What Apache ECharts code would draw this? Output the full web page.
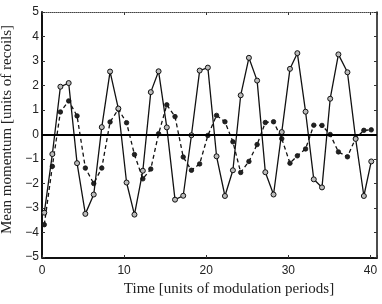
<!DOCTYPE html>
<html>
<head>
<meta charset="utf-8">
<script src="https://cdn.jsdelivr.net/npm/echarts@6/dist/echarts.min.js"></script>
<style>html,body{margin:0;padding:0;background:#fff}#c{width:382px;height:304px}</style>
</head>
<body>
<div id="c"></div>
<script>
var times = [0.28,1.26,2.24,3.25,4.27,5.28,6.3,7.28,8.29,9.3,10.3,11.26,12.28,13.25,14.2,15.2,16.2,17.2,18.2,19.2,20.2,21.26,22.28,23.25,24.2,25.2,26.2,27.2,28.2,29.2,30.2,31.1,32.1,33.1,34.1,35.1,36.1,37.2,38.2,39.2,40.1];
var solidValues = [-3.19,-0.8,1.95,2.1,-1.17,-3.24,-2.45,0.3,2.57,1.06,-1.96,-3.27,-1.48,1.73,2.58,0.29,-2.66,-2.5,-0.03,2.61,2.73,-0.89,-2.51,-1.46,1.6,3.13,2.2,-1.54,-2.45,0.1,2.68,3.32,0.93,-1.83,-2.16,1.46,3.27,2.54,-0.18,-2.51,-1.1];
var dashedValues = [-3.68,-1.3,0.92,1.37,0.76,-1.37,-2.0,-1.37,0.51,1.03,0.48,-0.82,-1.81,-1.41,0.03,1.21,0.73,-0.92,-1.46,-1.2,-0.04,0.78,0.52,-0.3,-1.55,-1.1,-0.41,0.49,0.52,-0.17,-1.17,-0.87,-0.59,0.38,0.37,0.0,-0.71,-0.91,-0.15,0.17,0.19];
var xTicks = [0,10,20,30,40];
var yTicks = [-5,-4,-3,-2,-1,0,1,2,3,4,5];

function pairs(xs, ys){ return xs.map(function(x,i){return [x, ys[i]];}); }

var chart = echarts.init(document.getElementById('c'), null, {renderer:'canvas'});
var tickFont = {fontFamily:'Liberation Sans', fontSize:12, color:'#222'};
chart.setOption({
  animation:false,
  backgroundColor:'#fff',
  grid:{left:42, right:5, top:12, bottom:47, containLabel:false, outerBoundsMode:'none'},
  xAxis:[{
    type:'value', min:0, max:40.8, interval:10, offset:1,
    axisLine:{show:true, onZero:false, lineStyle:{color:'#111', width:2}},
    axisTick:{show:true, inside:true, length:3, lineStyle:{color:'#333'}},
    axisLabel:Object.assign({margin:7, formatter:function(v){return xTicks.indexOf(v)>=0 ? String(v) : '';}}, tickFont),
    splitLine:{show:false},
    name:'Time [units of modulation periods]', nameLocation:'middle', nameGap:18,
    nameTextStyle:{fontFamily:'Liberation Serif', fontSize:15, color:'#222', padding:[0,0,0,39]}
  },{
    type:'value', position:'top', min:0, max:40.8, interval:10,
    axisLine:{show:true, onZero:false, lineStyle:{color:'#444', width:1, type:'dotted'}},
    axisTick:{show:true, inside:true, length:3, lineStyle:{color:'#333'}},
    axisLabel:{show:false}, splitLine:{show:false}
  }],
  yAxis:[{
    type:'value', min:-5, max:5, interval:1,
    axisLine:{show:true, onZero:false, lineStyle:{color:'#111', width:2}},
    axisTick:{show:true, inside:true, length:3, lineStyle:{color:'#333'}},
    axisLabel:Object.assign({margin:3, formatter:function(v){return yTicks.indexOf(v)>=0 ? String(v).replace('-', '\u2212') : '';}}, tickFont),
    splitLine:{show:false},
    name:'Mean momentum [units of recoils]', nameLocation:'middle', nameGap:8, nameRotate:90,
    nameTextStyle:{fontFamily:'Liberation Serif', fontSize:15, color:'#222', padding:[0,0,0,10]}
  },{
    type:'value', position:'right', min:-5, max:5, interval:1,
    axisLine:{show:true, onZero:false, lineStyle:{color:'#111', width:1.5}},
    axisTick:{show:true, inside:true, length:3, lineStyle:{color:'#333'}},
    axisLabel:{show:false}, splitLine:{show:false}
  }],
  series:[{
    type:'line', data:pairs(times, dashedValues), xAxisIndex:0, yAxisIndex:0,
    symbol:'circle', symbolSize:4.5, showSymbol:true,
    lineStyle:{color:'#111', width:1.3, type:[4,3]},
    itemStyle:{color:'#222', borderColor:'#111', borderWidth:0.8},
    z:3
  },{
    type:'line', data:pairs(times, solidValues), xAxisIndex:0, yAxisIndex:0,
    symbol:'circle', symbolSize:5, showSymbol:true,
    lineStyle:{color:'#111', width:1.3},
    itemStyle:{color:'#bbb', borderColor:'#111', borderWidth:1},
    markLine:{silent:true, symbol:'none', label:{show:false},
      lineStyle:{color:'#000', width:2, type:'solid'}, data:[{yAxis:0}]},
    z:4
  }]
});
</script>
</body>
</html>
